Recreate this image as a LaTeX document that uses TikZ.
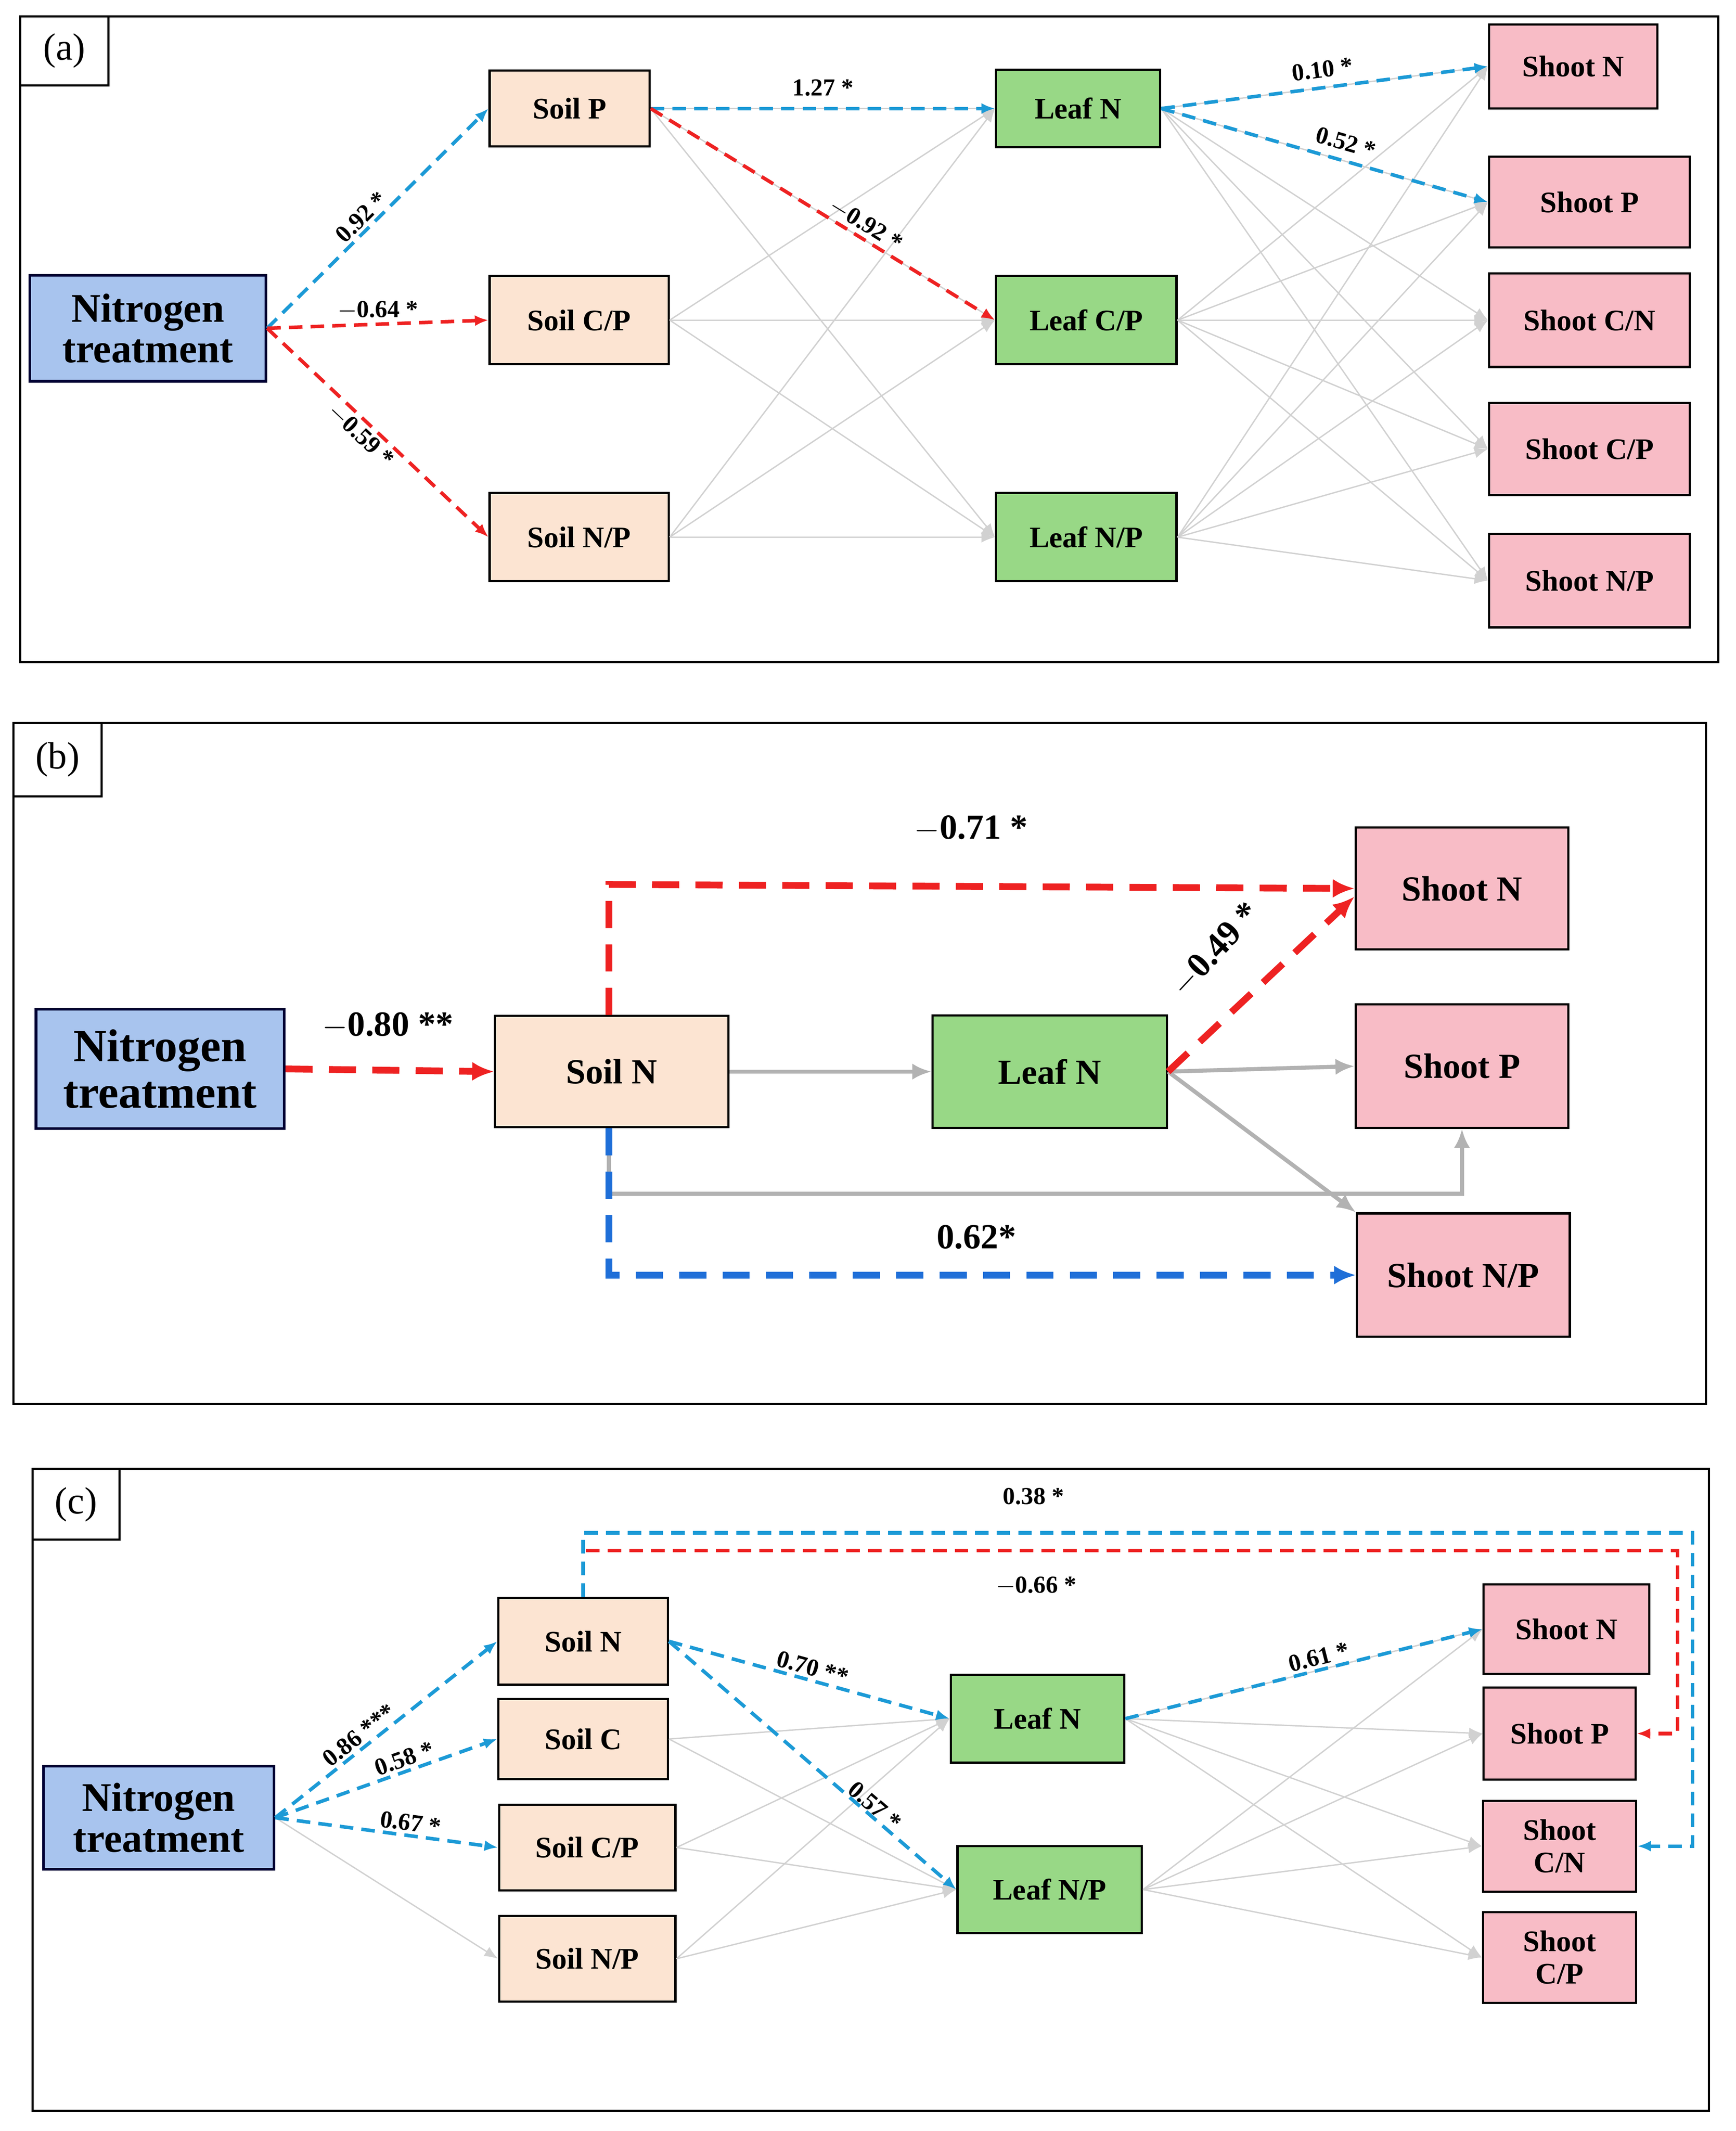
\documentclass[tikz,border=0pt]{standalone}
\usepackage{fontspec}
\setmainfont{Liberation Serif}
\usetikzlibrary{arrows.meta}
\definecolor{soil}{HTML}{FCE4D2}
\definecolor{leaf}{HTML}{98D886}
\definecolor{shoot}{HTML}{F8BCC6}
\definecolor{nit}{HTML}{A8C4EE}
\definecolor{bl}{HTML}{1C9AD6}
\definecolor{bl2}{HTML}{1F6FD8}
\definecolor{rd}{HTML}{EE2222}
\begin{document}
\begin{tikzpicture}[x=0.5pt,y=-0.5pt,
 bx/.style n args={2}{draw=black,line width=0.8pt,inner sep=0pt,align=center,minimum width=#1*0.5pt,minimum height=#2*0.5pt},
 soil/.style={fill=soil},leaf/.style={fill=leaf},shoot/.style={fill=shoot},nit/.style={fill=nit,draw=black!80!blue,line width=1pt},
 g/.style={draw=black!18,line width=0.5pt,-{Latex[length=5pt,width=4pt]}},
 g2/.style={draw=black!30,line width=1.5pt,-{Latex[length=7pt,width=6pt]}},
 bd/.style={draw=bl,line width=1.3pt,dash pattern=on 5pt off 3pt,-{Latex[length=5pt,width=4pt]}},
 rdd/.style={draw=rd,line width=1.3pt,dash pattern=on 5pt off 3pt,-{Latex[length=5pt,width=4pt]}},
 lab/.style={font=\bfseries\fontsize{9}{10}\selectfont,inner sep=1pt},
 labb/.style={font=\bfseries\fontsize{13}{14}\selectfont,inner sep=1pt},
 frame/.style={draw=black,line width=0.8pt},
 tag/.style={draw=black,line width=0.8pt,fill=white,inner sep=0pt,font=\fontsize{14}{16}\selectfont}]
\useasboundingbox (0,0) rectangle (1280,1571);
% ---------- (a)
\draw[frame] (15,12) rectangle (1267,488);
\node[tag,minimum width=32.5pt,minimum height=25.5pt] (ta) at (47.5,37.5) {(a)};
\begin{scope}[font=\bfseries\fontsize{11}{12}\selectfont]
\node[bx={174}{78},nit,font=\bfseries\fontsize{15}{15}\selectfont] (na) at (109,242) {Nitrogen\\treatment};
\node[bx={118}{56},soil] (sp) at (420,80) {Soil P};
\node[bx={132}{65},soil] (scp) at (427,236) {Soil C/P};
\node[bx={132}{65},soil] (snp) at (427,396) {Soil N/P};
\node[bx={121}{57},leaf] (ln) at (795,80) {Leaf N};
\node[bx={133}{65},leaf] (lcp) at (801,236) {Leaf C/P};
\node[bx={133}{65},leaf] (lnp) at (801,396) {Leaf N/P};
\node[bx={124}{62},shoot] (hn) at (1160,49) {Shoot N};
\node[bx={148}{67},shoot] (hp) at (1172,149) {Shoot P};
\node[bx={148}{69},shoot] (hcn) at (1172,236) {Shoot C/N};
\node[bx={148}{68},shoot] (hcp) at (1172,331) {Shoot C/P};
\node[bx={148}{69},shoot] (hnp) at (1172,428) {Shoot N/P};
\end{scope}
\foreach \s in {sp,scp,snp}{\foreach \l in {ln,lcp,lnp}{\draw[g] (\s.east) -- (\l.west);}}
\foreach \l in {ln,lcp,lnp}{\foreach \h in {hn,hp,hcn,hcp,hnp}{\draw[g] (\l.east) -- (\h.west);}}
\draw[bd] (na.east) -- (sp.west) node[lab,midway,above,sloped,xshift=-4pt] {0.92 *};
\draw[rdd] (na.east) -- (scp.west) node[lab,midway,above] {$-$0.64 *};
\draw[rdd] (na.east) -- (snp.west) node[lab,midway,below,sloped,xshift=-4pt] {$-$0.59 *};
\draw[bd] (sp.east) -- (ln.west) node[lab,midway,above,yshift=3pt] {1.27 *};
\draw[rdd] (sp.east) -- (lcp.west) node[lab,pos=0.55,above,sloped,xshift=8pt] {$-$0.92 *};
\draw[bd] (ln.east) -- (hn.west) node[lab,midway,above,sloped,yshift=2pt] {0.10 *};
\draw[bd] (ln.east) -- (hp.west) node[lab,pos=0.55,above,sloped,yshift=2pt] {0.52 *};
% ---------- (b)
\draw[frame] (10,533) rectangle (1258,1035);
\node[tag,minimum width=32.5pt,minimum height=27pt] (tb) at (42.5,560) {(b)};
\begin{scope}[font=\bfseries\fontsize{13}{14}\selectfont]
\node[bx={183}{88},nit,font=\bfseries\fontsize{17}{17}\selectfont] (nb) at (118,788) {Nitrogen\\treatment};
\node[bx={172}{82},soil] (bsn) at (451,790) {Soil N};
\node[bx={173}{83},leaf] (bln) at (774,790) {Leaf N};
\node[bx={157}{90},shoot] (bhn) at (1078,655) {Shoot N};
\node[bx={157}{91},shoot] (bhp) at (1078,786) {Shoot P};
\node[bx={157}{91},shoot] (bhnp) at (1079,940) {Shoot N/P};
\end{scope}
\coordinate (b1) at (449,652); \coordinate (b2) at (449,880); \coordinate (b3) at (1078,880);
\coordinate (b4) at (449,940);
\draw[g2] (bsn.east) -- (bln.west);
\draw[g2] (bln.east) -- (bhp.west);
\draw[g2] (bln.east) -- (bhnp.north west);
\draw[g2] (bsn.south -| b2) -- (b2) -- (b3) -- (bhp.south);
\begin{scope}[every path/.append style={line width=2.5pt,dash pattern=on 10pt off 6pt,-{Latex[length=8pt,width=7pt]}}]
\draw[draw=rd] (nb.east) -- (bsn.west);
\draw[draw=rd] (bsn.north -| b1) -- (b1) -- (bhn.west);
\draw[draw=rd] (bln.east) -- ([yshift=-3pt]bhn.west);
\draw[draw=bl2] (bsn.south -| b4) -- (b4) -- (bhnp.west);
\end{scope}
\node[labb] at (286,756) {$-$0.80 **};
\node[labb] at (716,611) {$-$0.71 *};
\node[labb,rotate=47] at (896,700) {$-$0.49 *};
\node[labb] at (720,912) {0.62*};
% ---------- (c)
\draw[frame] (24,1083) rectangle (1260,1556);
\node[tag,minimum width=32pt,minimum height=26pt] (tc) at (56,1109) {(c)};
\begin{scope}[font=\bfseries\fontsize{11}{12}\selectfont]
\node[bx={170}{76},nit,font=\bfseries\fontsize{15}{15}\selectfont] (nc) at (117,1340) {Nitrogen\\treatment};
\node[bx={125}{64},soil] (csn) at (430,1210) {Soil N};
\node[bx={125}{59},soil] (csc) at (430,1282) {Soil C};
\node[bx={130}{63},soil] (cscp) at (433,1362) {Soil C/P};
\node[bx={130}{63},soil] (csnp) at (433,1444) {Soil N/P};
\node[bx={128}{65},leaf] (cln) at (765,1267) {Leaf N};
\node[bx={136}{64},leaf] (clnp) at (774,1393) {Leaf N/P};
\node[bx={122}{66},shoot] (chn) at (1155,1201) {Shoot N};
\node[bx={112}{68},shoot] (chp) at (1150,1278) {Shoot P};
\node[bx={113}{67},shoot] (chcn) at (1150,1361) {Shoot\\C/N};
\node[bx={113}{67},shoot] (chcp) at (1150,1443) {Shoot\\C/P};
\end{scope}
\draw[g] (nc.east) -- (csnp.west);
\foreach \s in {csc,cscp,csnp}{\foreach \l in {cln,clnp}{\draw[g] (\s.east) -- (\l.west);}}
\foreach \l in {cln,clnp}{\foreach \h in {chn,chp,chcn,chcp}{\draw[g] (\l.east) -- (\h.west);}}
\draw[bd] (nc.east) -- (csn.west) node[lab,pos=0.45,above,sloped,xshift=-4pt] {0.86 ***};
\draw[bd] (nc.east) -- (csc.west) node[lab,pos=0.6,above,sloped] {0.58 *};
\draw[bd] (nc.east) -- (cscp.west) node[lab,pos=0.6,above,sloped] {0.67 *};
\draw[bd] (csn.east) -- (cln.west) node[lab,midway,above,sloped] {0.70 **};
\draw[bd] (csn.east) -- (clnp.west) node[lab,pos=0.65,above,sloped,yshift=-1pt,xshift=6pt] {0.57 *};
\draw[bd] (cln.east) -- (chn.west) node[lab,pos=0.55,above,sloped] {0.61 *};
\coordinate (c1) at (430,1130); \coordinate (c2) at (1248,1130);
\coordinate (c3) at (432,1143); \coordinate (c4) at (1237,1143);
\draw[bd] (csn.north) -- (c1) -- (c2) |- (chcn.east);
\draw[rdd] (c3) -- (c4) |- (chp.east);
\node[lab] at (762,1103) {0.38 *};
\node[lab] at (764,1169) {$-$0.66 *};
\end{tikzpicture}
\end{document}
